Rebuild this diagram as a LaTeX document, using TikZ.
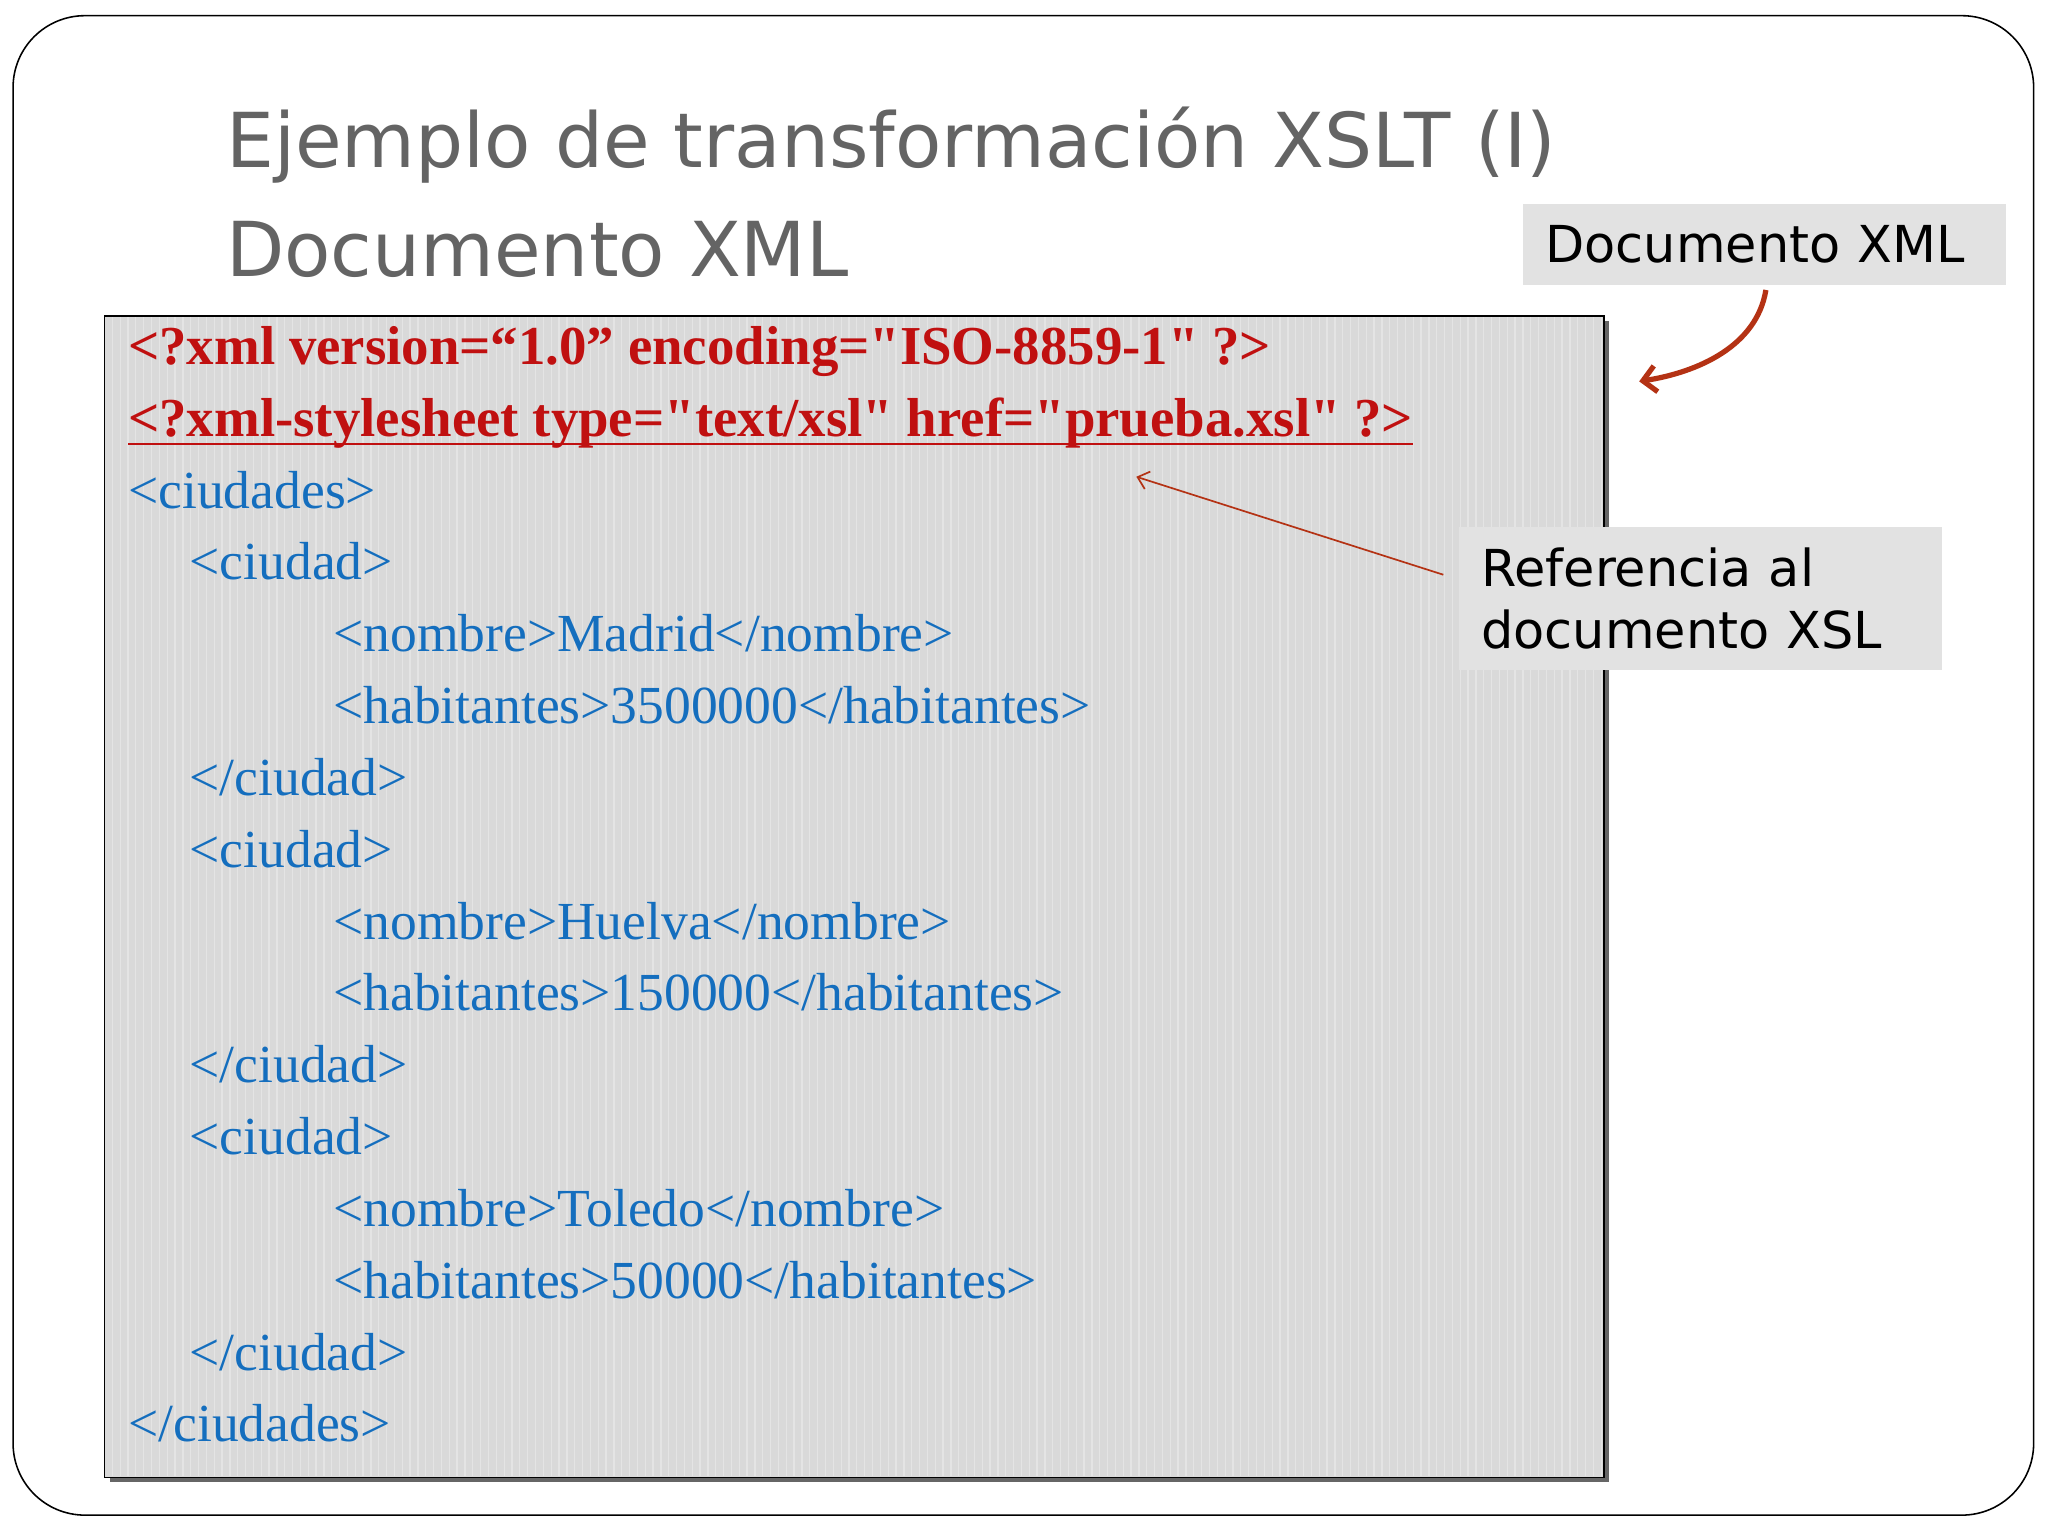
\documentclass[tikz,border=0pt]{standalone}
\usepackage{fontspec}
\setmainfont{Liberation Serif}
\newfontfamily\tsans{DejaVu Sans}
\usetikzlibrary{arrows.meta}
\definecolor{codered}{RGB}{192,16,16}
\definecolor{codeblue}{RGB}{20,110,190}
\definecolor{titlegray}{RGB}{100,100,100}
\definecolor{boxgray}{RGB}{226,226,226}
\definecolor{arrred}{RGB}{180,50,20}
\newcommand{\q}{\textquotedbl}
\tikzset{
 code/.style={anchor=base west,inner sep=0pt,font=\fontsize{41}{44}\selectfont},
 red/.style={code,text=codered,font=\fontsize{42}{44}\selectfont\bfseries},
 blue/.style={code,text=codeblue},
 callout/.style={fill=boxgray,anchor=north west,inner sep=0pt,font=\tsans\fontsize{39}{48}\selectfont,align=left}
}
\begin{document}
\begin{tikzpicture}[x=1pt,y=-1pt]
\useasboundingbox (0,0) rectangle (1568,1176);
\fill[white] (0,0) rectangle (1568,1176);
\draw[line width=1.2pt,rounded corners=55pt] (10,12) rectangle (1557,1160);
\node[anchor=base west,inner sep=0pt,text=titlegray,font=\tsans\fontsize{58}{70}\selectfont] (t1) at (173,128) {Ejemplo de transformación XSLT (I)};
\node[anchor=base west,inner sep=0pt,text=titlegray,font=\tsans\fontsize{58}{70}\selectfont] (t2) at (173,212) {Documento XML};
% code box
\fill[black!60] (84,246) rectangle (1232,1135);
\fill[black!15] (80,242) rectangle (1228,1131);
\foreach \x in {86,92,...,1226} \draw[white,line width=1pt,opacity=0.3] (\x,243) -- (\x,1130);
\draw[black,line width=1pt] (80,242) rectangle (1228,1131);
\node[red] (l1) at (98,279) {<?xml version=“1.0” encoding=\q ISO-8859-1\q{} ?>};
\node[red] (l2) at (98,334) {<?xml-stylesheet type=\q text/xsl\q{} href=\q prueba.xsl\q{} ?>};
\draw[codered,line width=2pt] ([yshift=-6pt]l2.base west) -- ([yshift=-6pt]l2.base east);
\node[blue] (l3) at (98,389) {<ciudades>};
\node[blue] at (145,444) {<ciudad>};
\node[blue] at (255,499) {<nombre>Madrid</nombre>};
\node[blue] at (255,554) {<habitantes>3500000</habitantes>};
\node[blue] at (145,609) {</ciudad>};
\node[blue] at (145,664) {<ciudad>};
\node[blue] at (255,719) {<nombre>Huelva</nombre>};
\node[blue] at (255,774) {<habitantes>150000</habitantes>};
\node[blue] at (145,829) {</ciudad>};
\node[blue] at (145,884) {<ciudad>};
\node[blue] at (255,939) {<nombre>Toledo</nombre>};
\node[blue] at (255,994) {<habitantes>50000</habitantes>};
\node[blue] at (145,1049) {</ciudad>};
\node[blue] at (98,1104) {</ciudades>};
% callouts
\node[callout,minimum width=370pt,minimum height=62pt,text width=336pt,inner xsep=17pt] (dx) at (1166,156) {Documento XML};
\node[callout,minimum width=370pt,minimum height=110pt,text width=336pt,inner xsep=17pt] (rx) at (1117,403) {Referencia al\\documento XSL};
\coordinate (a1) at (1255,292);
\coordinate (p1) at (870,365);
\draw[arrred,line width=4pt,-{Straight Barb[length=10pt,width=20pt]}] (1352,222) .. controls (1345,265) and (1300,285) .. (a1);
\draw[arrred,line width=1.3pt,-{Straight Barb[length=8pt,width=14pt]}] ([xshift=-12pt]rx.west |- 0,440) -- (p1);
\end{tikzpicture}
\end{document}
